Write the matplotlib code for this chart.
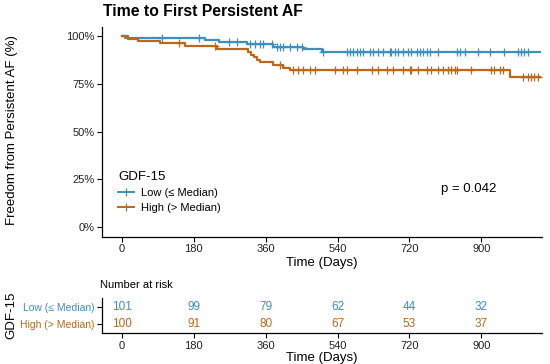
import numpy as np
import matplotlib
matplotlib.use("Agg")
import matplotlib.pyplot as plt
from matplotlib.lines import Line2D

plt.rcParams['font.family'] = ['Liberation Sans', 'DejaVu Sans']

# ---- data ----
groups = ["Low (\u2264 Median)", "High (> Median)"]
colors = ["#3F8EBB", "#B8691E"]

low_times = [0, 8, 208, 242, 312, 379, 454, 500]
low_surv = [1.0, 0.990, 0.979, 0.967, 0.956, 0.944, 0.930, 0.915]
low_end = 1047
low_censor = [100, 192, 267, 288, 321, 333, 346, 354, 375, 388, 396, 404, 421, 438, 450,
              504, 563, 571, 579, 588, 596, 604, 621, 629, 642, 654, 671, 675, 683, 692,
              704, 717, 725, 738, 746, 754, 763, 771, 792, 838, 846, 858, 892, 921, 958,
              992, 1000, 1008, 1017]

high_times = [0, 16, 41, 96, 158, 237, 316, 324, 331, 338, 345, 378, 404, 421, 972]
high_surv = [1.0, 0.985, 0.975, 0.963, 0.949, 0.930, 0.915, 0.903, 0.890, 0.877, 0.865,
             0.848, 0.834, 0.822, 0.784]
high_end = 1047
high_censor = [142, 233, 396, 429, 442, 454, 471, 483, 533, 554, 563, 588, 625, 642, 663,
               679, 704, 721, 725, 742, 763, 775, 792, 804, 817, 825, 833, 838, 875, 925,
               933, 946, 954, 1004, 1017, 1025, 1033, 1042]

risk_times = [0, 180, 360, 540, 720, 900]
risk_low = [101, 99, 79, 62, 44, 32]
risk_high = [100, 91, 80, 67, 53, 37]

x_ticks = [0, 180, 360, 540, 720, 900]
y_ticks = [0, 0.25, 0.5, 0.75, 1.0]
y_ticklabels = ["0%", "25%", "50%", "75%", "100%"]
p_text = "p = 0.042"

# ---- figure ----
W, H = 550, 364
fig = plt.figure(figsize=(W / 100, H / 100), dpi=100)

def fx(px):
    return px / W

def fy(py):
    return 1 - py / H

ax = fig.add_axes([fx(102), fy(236.5), fx(542) - fx(102), fy(26.5) - fy(236.5)])

curves = [
    (low_times, low_surv, low_end, low_censor, colors[0]),
    (high_times, high_surv, high_end, high_censor, colors[1]),
]
for times, surv, end, cens, col in curves:
    t = list(times) + [end]
    s = list(surv) + [surv[-1]]
    ax.step(t, s, where='post', color=col, lw=1.6)
    idx = np.searchsorted(np.array(times), np.array(cens), side='right') - 1
    ax.plot(cens, np.array(surv)[idx], ls='none', marker='+', ms=5.5, mew=0.9, color=col)

ax.set_xlim(-50, 1052)
ax.set_ylim(-0.05, 1.05)
ax.set_xticks(x_ticks)
ax.set_yticks(y_ticks)
ax.set_yticklabels(y_ticklabels)
for sp in ['top', 'right']:
    ax.spines[sp].set_visible(False)
for sp in ['left', 'bottom']:
    ax.spines[sp].set_linewidth(0.9)
ax.tick_params(axis='both', labelsize=8, length=3.5, width=0.8, colors='black',
               labelcolor='#222222', pad=2)
ax.set_xlabel("Time (Days)", fontsize=9.5, labelpad=2)
fig.text(fx(12), fy(130), "Freedom from Persistent AF (%)", fontsize=9.5,
         rotation=90, ha='center', va='center')

handles = [Line2D([0], [0], color=c, lw=1.4, marker='|', ms=6, mew=0.9) for c in colors]
leg = ax.legend(handles, groups, title="GDF-15", loc='upper left',
                bbox_to_anchor=(fx(108), fy(161)), bbox_transform=fig.transFigure,
                frameon=False, fontsize=8, title_fontsize=9.5, handlelength=1.4,
                handletextpad=0.7, labelspacing=0.45)
leg._legend_box.align = "left"

ax.text(fx(441), fy(189), p_text, transform=fig.transFigure, fontsize=9.5,
        ha='left', va='center')

fig.text(fx(103), fy(12), "Time to First Persistent AF", fontsize=11.3,
         fontweight='bold', ha='left', va='center')

# ---- risk table ----
rax = fig.add_axes([fx(102), fy(333), fx(542) - fx(102), fy(298) - fy(333)])
rax.set_xlim(-50, 1052)
rax.set_ylim(0.5, 2.5)
for t, n in zip(risk_times, risk_low):
    rax.text(t, 2, str(n), color=colors[0], fontsize=8.5, ha='center', va='center')
for t, n in zip(risk_times, risk_high):
    rax.text(t, 1, str(n), color=colors[1], fontsize=8.5, ha='center', va='center')
rax.set_xticks(x_ticks)
rax.set_yticks([2, 1])
rax.set_yticklabels(groups)
for lab, c in zip(rax.get_yticklabels(), colors):
    lab.set_color(c)
for sp in ['top', 'right']:
    rax.spines[sp].set_visible(False)
for sp in ['left', 'bottom']:
    rax.spines[sp].set_linewidth(0.9)
rax.tick_params(axis='both', length=3.5, width=0.8, pad=2)
rax.tick_params(axis='y', labelsize=7.5)
rax.tick_params(axis='x', labelsize=8, labelcolor='#222222')
rax.set_xlabel("Time (Days)", fontsize=9.5, labelpad=1)
fig.text(fx(11), fy(315), "GDF-15", fontsize=9.5, rotation=90, ha='center', va='center')
fig.text(fx(100), fy(285), "Number at risk", fontsize=8, ha='left', va='center')

fig.savefig("out.png", dpi=100)
